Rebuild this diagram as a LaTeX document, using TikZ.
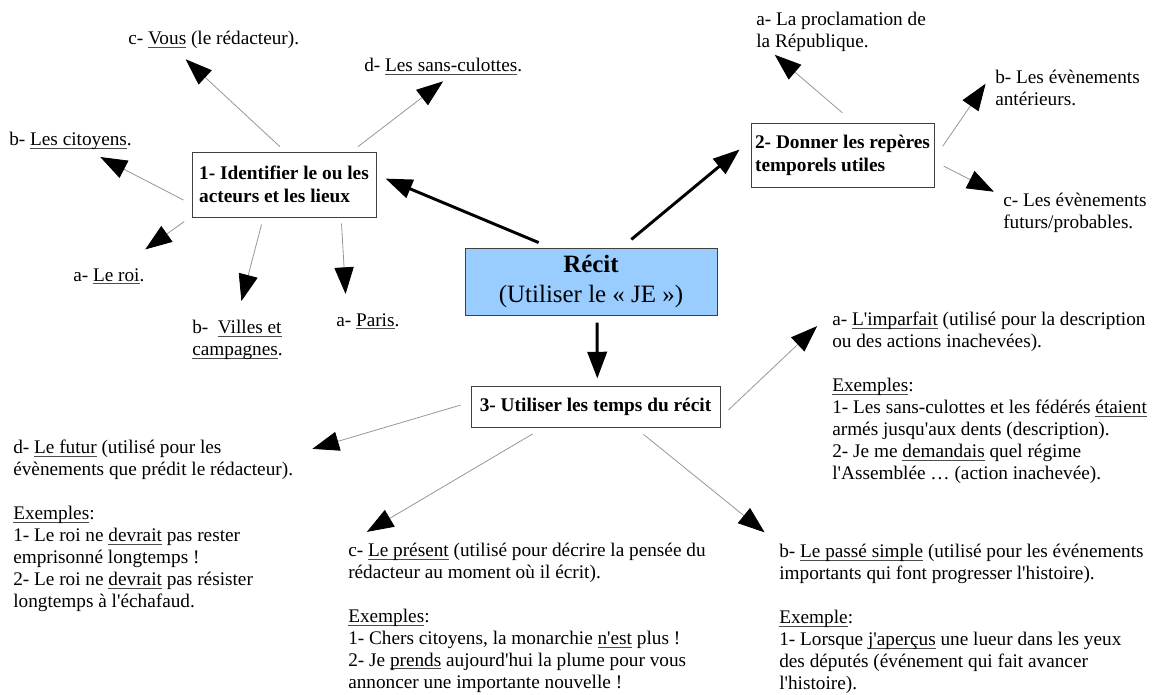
\documentclass[tikz,border=0pt]{standalone}
\usepackage{fontspec}
\setmainfont{Liberation Serif}[Ligatures=TeXOff]
\usetikzlibrary{arrows.meta}

\definecolor{linkgray}{RGB}{150,150,150}
\definecolor{recitblue}{RGB}{153,204,255}
\newcommand\corps{\fontsize{14.45}{16.45}\selectfont}
\newcommand\titre{\fontsize{14.5}{17.25}\selectfont\bfseries}
\newcommand\grand{\fontsize{18.7}{22.5}\selectfont}
% soulignement a profondeur fixe
\newcommand\trait[1]{\setbox0\hbox{#1}\rlap{\color{black!70}\rule[-2.2pt]{\wd0}{0.6pt}}\box0\relax}

\begin{document}
\begin{tikzpicture}[x=0.75pt, y=-0.75pt,
  pointe/.style={-{Triangle[length=20pt,width=14.5pt,color=black]}},
  lien/.style={pointe, draw=linkgray, line width=0.6pt},
  gros/.style={pointe, draw=black, line width=2.2pt},
  cadre/.style={draw=black!75, line width=0.75pt, inner sep=2pt, align=left, font=\titre},
  txt/.style={anchor=north west, inner sep=0pt, align=left, font=\corps}]
  \useasboundingbox (0,0) rectangle (1162,694);

  % les cadres
  \node[cadre, fill=recitblue, minimum width=189pt, minimum height=50.25pt, align=center, font=\grand] (recit) at (591,281.5) {\textbf{Récit}\\(Utiliser le « JE »)};
  \node[cadre, minimum width=138pt, minimum height=48.75pt] (acteurs) at (284,184.5) {1- Identifier le ou les\\acteurs et les lieux};
  \node[cadre, minimum width=137.25pt, minimum height=48pt] (reperes) at (842.5,155) {2- Donner les repères\\temporels utiles};
  \node[cadre, minimum width=186.75pt, minimum height=30.75pt] (temps) at (595.5,406.5) {3- Utiliser les temps du récit};

  % acteurs et lieux
  \node[txt] (vous) at (128,31) {c- \trait{Vous} (le rédacteur).};
  \node[txt] (sans) at (364,58) {d- \trait{Les sans-culottes}.};
  \node[txt] (citoyens) at (9,132) {b- \trait{Les citoyens}.};
  \node[txt] (roi) at (73,268) {a- \trait{Le roi}.};
  \node[txt] (villes) at (192,320) {b-~~\trait{Villes et}\\\trait{campagnes}.};
  \node[txt] (paris) at (336,313) {a- \trait{Paris}.};

  % reperes temporels
  \node[txt] (proclam) at (756,12) {a- La proclamation de\\la République.};
  \node[txt] (anterieurs) at (995,70) {b- Les évènements\\antérieurs.};
  \node[txt] (futurs) at (1003,193) {c- Les évènements\\futurs/probables.};

  % temps du recit
  \node[txt] (imparfait) at (832,312) {a- \trait{L'imparfait} (utilisé pour la description\\
    ou des actions inachevées).\\[16.45pt]
    \trait{Exemples}:\\
    1- Les sans-culottes et les fédérés \trait{étaient}\\
    armés jusqu'aux dents (description).\\
    2- Je me \trait{demandais} quel régime\\
    l'Assemblée … (action inachevée).};
  \node[txt] (passe) at (779,544) {b- \trait{Le passé simple} (utilisé pour les événements\\
    importants qui font progresser l'histoire).\\[16.45pt]
    \trait{Exemple}:\\
    1- Lorsque \trait{j'aperçus} une lueur dans les yeux\\
    des députés (événement qui fait avancer\\
    l'histoire).};
  \node[txt] (present) at (348,543) {c- \trait{Le présent} (utilisé pour décrire la pensée du\\
    rédacteur au moment où il écrit).\\[16.45pt]
    \trait{Exemples}:\\
    1- Chers citoyens, la monarchie \trait{n'est} plus !\\
    2- Je \trait{prends} aujourd'hui la plume pour vous\\
    annoncer une importante nouvelle !};
  \node[txt] (futur) at (13,440) {d- \trait{Le futur} (utilisé pour les\\
    évènements que prédit le rédacteur).\\[16.45pt]
    \trait{Exemples}:\\
    1- Le roi ne \trait{devrait} pas rester\\
    emprisonné longtemps !\\
    2- Le roi ne \trait{devrait} pas résister\\
    longtemps à l'échafaud.};

  % fleches depuis le recit
  \draw[gros, shorten <=9.6pt, shorten >=7.4pt] (recit.140.9) -- (acteurs.6.45);
  \draw[gros, shorten <=9.5pt, shorten >=10.6pt] (recit.48) -- (reperes.171.9);
  \draw[gros, shorten <=5.3pt, shorten >=5.3pt] (recit.280.2) -- (temps.85.8);

  % fleches fines
  \draw[lien, shorten <=5.4pt, shorten >=11.3pt] (acteurs.88.1) -- (vous.193.8);
  \draw[lien, shorten <=6pt, shorten >=8pt] (acteurs.26.3) -- (sans.315.2);
  \draw[lien, shorten <=6.75pt, shorten >=11.4pt] (acteurs.192) -- (citoyens.331.9);
  \draw[lien, shorten <=6.7pt, shorten >=24pt] (acteurs.199.9) -- (roi.38);
  \draw[lien, shorten <=5.4pt, shorten >=14.7pt] (acteurs.238.1) -- (villes.93.7);
  \draw[lien, shorten <=4.5pt, shorten >=14.3pt] (acteurs.330.1) -- (paris.159.3);
  \draw[lien, shorten <=11.2pt, shorten >=3.3pt] (reperes.71.8) -- (proclam.196.9);
  \draw[lien, shorten <=10.9pt, shorten >=12.5pt] (reperes.358.7) -- (anterieurs.north west);
  \draw[lien, shorten <=7.7pt, shorten >=7.7pt] (reperes.356.9) -- (futurs.167.9);
  \draw[lien, shorten <=8.2pt, shorten >=15.4pt] (temps.355.9) -- (imparfait.north west);
  \draw[lien, shorten <=8.2pt, shorten >=13.9pt] (temps.332.4) -- (passe.north west);
  \draw[lien, shorten <=9.4pt, shorten >=16.4pt] (temps.202.9) -- (present.north west);
  \draw[lien, shorten <=7.8pt, shorten >=14.9pt] (temps.178) -- (futur.27.6);
\end{tikzpicture}
\end{document}
